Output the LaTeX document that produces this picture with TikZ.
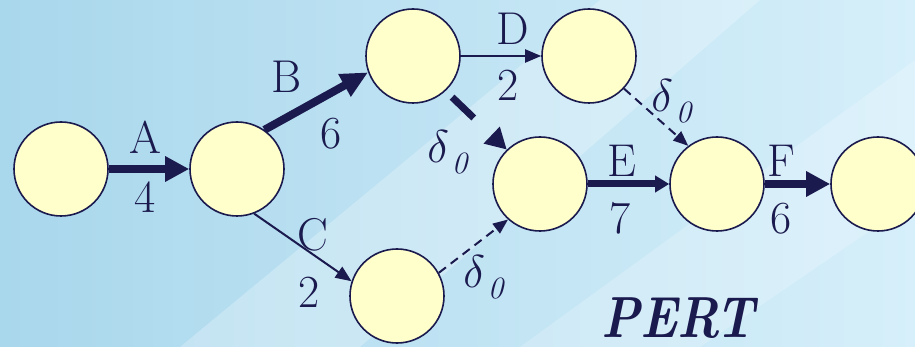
\documentclass[tikz,border=0pt]{standalone}
\usepackage{fix-cm}
\usetikzlibrary{arrows.meta}
\definecolor{pertnavy}{HTML}{1B1A4E}
\definecolor{pertcream}{HTML}{FFFFCC}
\definecolor{skydeep}{HTML}{A9D7EC}
\definecolor{skypale}{HTML}{D6EFFA}

\tikzset{
  event/.style={circle, draw=pertnavy, line width=1.6pt, fill=pertcream,
                minimum size=94pt, inner sep=0pt},
  heavy/.style={-{Triangle[length=24pt,width=24pt]}, line width=8pt, draw=pertnavy},
  light/.style={-{Triangle[length=16pt,width=13pt]}, line width=2pt, draw=pertnavy},
  dummy/.style={-{Triangle[length=15pt,width=12pt]}, line width=2pt,
                dash pattern=on 9pt off 6pt, draw=pertnavy},
  lbl/.style={font=\fontsize{46}{46}\selectfont, text=pertnavy, inner sep=0pt},
}
\newcommand{\slack}{$\delta$\hspace{3pt}\raisebox{-11pt}{\fontsize{31}{31}\selectfont\textit{0}}}

\begin{document}
\begin{tikzpicture}[x=1pt, y=-1pt]
  \useasboundingbox (0,0) rectangle (915,347);
  \clip (0,0) rectangle (915,347);
  % background
  \fill[left color=skydeep, right color=skypale] (0,0) rectangle (915,347);
  \fill[white, opacity=0.25] (180,347) -- (600,0) -- (760,0) -- (360,347) -- cycle;
  \fill[white, opacity=0.2] (520,347) -- (915,60) -- (915,200) -- (700,347) -- cycle;

  % events
  \node[event] (ev1) at (61,169) {};
  \node[event] (ev2) at (237,169) {};
  \node[event] (ev3) at (413,56) {};
  \node[event] (ev4) at (589,56) {};
  \node[event] (ev5) at (540,184) {};
  \node[event] (ev6) at (397,296) {};
  \node[event] (ev7) at (717,184) {};
  \node[event] (ev8) at (878,184) {};

  % activities
  \draw[heavy] (ev1) -- (ev2);
  \draw[heavy, -{Triangle[length=27pt,width=24pt]}] (ev2.55) -- (ev3.200);
  \draw[light] (ev2.291) -- (ev6.162);
  \draw[light] (ev3) -- (ev4);
  \draw[heavy, line width=7pt, dash pattern=on 30pt off 200pt, shorten <=9pt,
        -{Triangle[length=21pt,width=22pt]}] (ev3.-47) -- (ev5.134);
  \draw[dummy] (ev6.29) -- (ev5.228);
  \draw[dummy] (ev4.-43) -- (ev7.127);
  \draw[heavy, line width=7pt, -{Triangle[length=14pt,width=16pt]}] (ev5) -- (ev7);
  \draw[heavy] (ev7) -- (ev8);

  % labels
  \node[lbl] (lA) at (145,137) {A};
  \node[lbl] (dA) at (145,197) {4};
  \node[lbl] (lB) at (287,77) {B};
  \node[lbl] (dB) at (331,134) {6};
  \node[lbl] (lC) at (313,235) {C};
  \node[lbl] (dC) at (309,292) {2};
  \node[lbl] (lD) at (513,29) {D};
  \node[lbl] (dD) at (508,85) {2};
  \node[lbl] (lE) at (622,161) {E};
  \node[lbl] (dE) at (620,218) {7};
  \node[lbl] (lF) at (781,161) {F};
  \node[lbl] (dF) at (781,219) {6};
  \node[lbl] (s1) at (448,152) {\slack};
  \node[lbl] (s2) at (672,101) {\slack};
  \node[lbl] (s3) at (484,277) {\slack};

  \node[font=\fontsize{58}{58}\selectfont\bfseries\itshape, text=pertnavy,
        inner sep=0pt] (title) at (678,318) {\scalebox{0.85}[1]{PERT}};
\end{tikzpicture}
\end{document}
